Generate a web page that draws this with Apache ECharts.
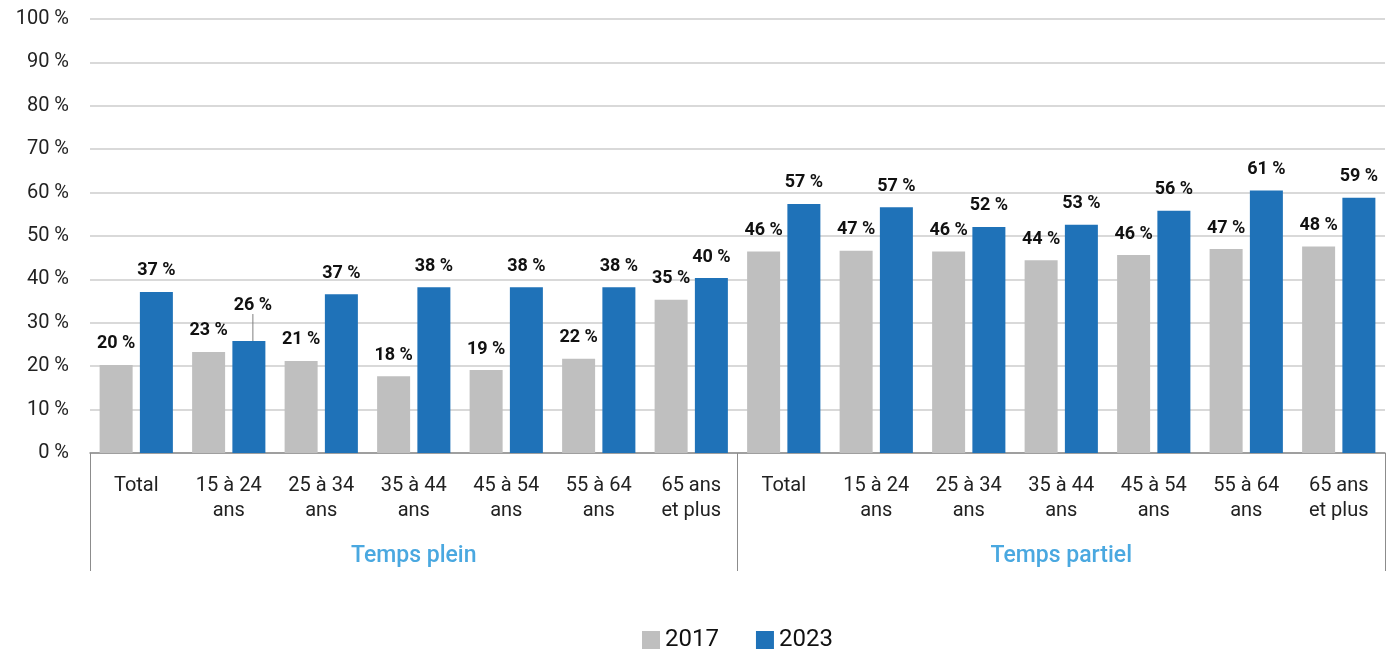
<!DOCTYPE html>
<html>
<head>
<meta charset="utf-8">
<script src="https://cdn.jsdelivr.net/npm/echarts@6/dist/echarts.min.js"></script>
<style>
  html, body { margin: 0; padding: 0; background: #fff; }
  #chart { width: 1389px; height: 650px; }
</style>
</head>
<body>
<div id="chart"></div>
<script>
// Age groups, repeated for each work-time group
const categories = [
  'Total', '15 à 24\nans', '25 à 34\nans', '35 à 44\nans', '45 à 54\nans', '55 à 64\nans', '65 ans\net plus',
  'Total', '15 à 24\nans', '25 à 34\nans', '35 à 44\nans', '45 à 54\nans', '55 à 64\nans', '65 ans\net plus'
];
const groups = ['Temps plein', 'Temps partiel'];
const years = ['2017', '2023'];

// Shares in percent (first 7: temps plein, last 7: temps partiel)
const values2017 = [20.3, 23.3, 21.2, 17.7, 19.1, 21.7, 35.3, 46.4, 46.6, 46.4, 44.4, 45.6, 47.0, 47.6];
const values2023 = [37.1, 25.8, 36.6, 38.2, 38.2, 38.2, 40.3, 57.4, 56.6, 52.1, 52.6, 55.8, 60.5, 58.8];

const yTicks = { min: 0, max: 100, interval: 10 };

const GREY = '#bfbfbf';
const BLUE = '#1f72b8';
const FONT = 'Roboto, "Liberation Sans", sans-serif';

const chart = echarts.init(document.getElementById('chart'));

const labelStyle = {
  show: true,
  position: 'top',
  distance: 12,
  fontFamily: FONT,
  fontWeight: 'bold',
  fontSize: 18,
  color: '#111',
  formatter: p => Math.round(p.value) + ' %'
};

// The 15 à 24 ans bar of 2023 (temps plein) has its label lifted with a leader line
const data2023 = values2023.map((v, i) => i === 1
  ? { value: v, labelLine: { show: true, lineStyle: { color: '#7f7f7f', width: 1 } } }
  : v);

chart.setOption({
  animation: false,
  textStyle: { fontFamily: FONT },
  grid: { left: 90, right: 4, top: 19, bottom: 197 },
  legend: {
    data: years,
    top: 623,
    left: 637,
    itemWidth: 18,
    itemHeight: 18,
    itemGap: 37,
    icon: 'rect',
    textStyle: { fontSize: 24, color: '#111', fontFamily: FONT }
  },
  xAxis: [
    {
      type: 'category',
      data: categories,
      axisLine: { show: true, lineStyle: { color: '#8c8c8c', width: 1.5 } },
      axisTick: { show: false },
      axisLabel: {
        interval: 0,
        margin: 20,
        fontSize: 20,
        lineHeight: 25,
        color: '#222',
        fontFamily: FONT
      }
    },
    {
      type: 'category',
      data: groups,
      position: 'bottom',
      axisLine: { show: false },
      axisTick: { show: true, length: 118, lineStyle: { color: '#8c8c8c', width: 1 } },
      axisLabel: {
        margin: 92,
        fontSize: 23,
        fontWeight: 500,
        color: '#4aa8e0',
        fontFamily: FONT
      }
    }
  ],
  yAxis: {
    type: 'value',
    min: yTicks.min,
    max: yTicks.max,
    interval: yTicks.interval,
    axisLine: { show: false },
    axisTick: { show: false },
    axisLabel: {
      formatter: '{value} %',
      fontSize: 20,
      color: '#222',
      margin: 21,
      fontFamily: FONT
    },
    splitLine: { lineStyle: { color: '#d9d9d9', width: 2 } }
  },
  series: [
    {
      name: years[0],
      type: 'bar',
      data: values2017,
      barWidth: 33,
      barGap: '22%',
      itemStyle: { color: GREY },
      label: labelStyle
    },
    {
      name: years[1],
      type: 'bar',
      data: data2023,
      barWidth: 33,
      barGap: '22%',
      itemStyle: { color: BLUE },
      label: labelStyle,
      labelLayout: p => p.dataIndex === 1 ? { dx: 4, dy: -15 } : {}
    }
  ]
});
</script>
</body>
</html>
